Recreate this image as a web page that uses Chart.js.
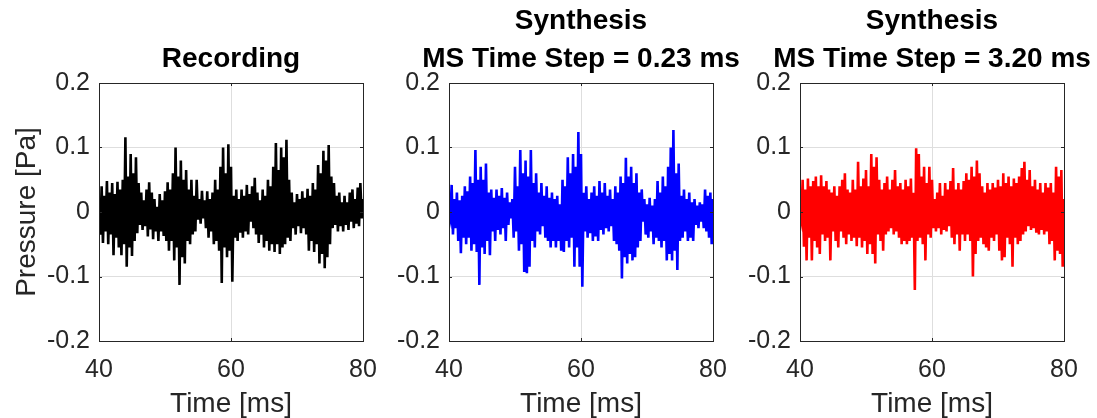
<!DOCTYPE html>
<html>
<head>
<meta charset="utf-8">
<script src="https://cdn.jsdelivr.net/npm/chart.js@4.4.1/dist/chart.umd.min.js"></script>
<style>
  html, body { margin: 0; padding: 0; background: #ffffff; }
  #wrap { position: relative; width: 1097px; height: 418px; overflow: hidden; background: #ffffff; }
  #wrap canvas { position: absolute; top: 0; }
</style>
</head>
<body>
<div id="wrap">
  <canvas id="panel0" width="403" height="418" style="left:0px"></canvas>
  <canvas id="panel1" width="403" height="418" style="left:350px"></canvas>
  <canvas id="panel2" width="403" height="418" style="left:701px"></canvas>
</div>
<script>
// Sample spacing of the pressure traces (ms); traces start at 40 ms.
const STEP_MS = 0.2;
const T_START = 40;

const xTicks = [40, 60, 80];
const xTickLabels = ['40', '60', '80'];
const yTicks = [-0.2, -0.1, 0, 0.1, 0.2];
const yTickLabels = ['-0.2', '-0.1', '0', '0.1', '0.2'];

const panelTitles = [
  ['Recording'],
  ['Synthesis', 'MS Time Step = 0.23 ms'],
  ['Synthesis', 'MS Time Step = 3.20 ms']
];
const seriesColors = ['#000000', '#0000ff', '#ff0000'];

// Positive excursions at 40.0, 40.4, ... 80.0 ms  [Pa]
const recordingPeaks = [
  0.01, 0.04, 0.025, 0.048, 0.03, 0.045, 0.028, 0.047, 0.035, 0.05,
  0.116, 0.055, 0.09, 0.06, 0.085, 0.045, 0.03, 0.018, 0.035, 0.046,
  0.03, 0.02, 0.008, 0.028, 0.018, 0.032, 0.046, 0.035, 0.06, 0.1,
  0.055, 0.08, 0.05, 0.065, 0.035, 0.05, 0.025, 0.05, 0.02, 0.033,
  0.018, 0.032, 0.02, 0.03, 0.05, 0.035, 0.07, 0.1, 0.06, 0.105,
  0.07, 0.025, 0.035, 0.02, 0.035, 0.025, 0.042, 0.028, 0.04, 0.053,
  0.03, 0.018, 0.035, 0.025, 0.05, 0.04, 0.07, 0.107, 0.065, 0.1,
  0.085, 0.112, 0.05, 0.03, 0.015, 0.028, 0.02, 0.032, 0.022, 0.036,
  0.025, 0.045, 0.035, 0.073, 0.06, 0.095, 0.08, 0.104, 0.055, 0.045,
  0.025, 0.03, 0.015, 0.025, 0.015, 0.03, 0.035, 0.02, 0.038, 0.045,
  0.02
];
// Negative excursions at 40.2, 40.6, ... 79.8 ms  [Pa]
const recordingTroughs = [
  -0.035, -0.048, -0.03, -0.05, -0.035, -0.067, -0.04, -0.055, -0.067, -0.05,
  -0.085, -0.055, -0.068, -0.045, -0.033, -0.02, -0.028, -0.022, -0.038, -0.027,
  -0.042, -0.03, -0.045, -0.03, -0.037, -0.045, -0.06, -0.045, -0.075, -0.055,
  -0.113, -0.07, -0.08, -0.045, -0.05, -0.035, -0.03, -0.012, -0.018, -0.01,
  -0.025, -0.04, -0.03, -0.05, -0.045, -0.06, -0.11, -0.055, -0.07, -0.06,
  -0.108, -0.04, -0.045, -0.032, -0.04, -0.03, -0.035, -0.015, -0.025, -0.035,
  -0.048, -0.035, -0.055, -0.045, -0.06, -0.05, -0.062, -0.05, -0.065, -0.055,
  -0.05, -0.04, -0.045, -0.025, -0.035, -0.022, -0.033, -0.025, -0.035, -0.06,
  -0.045, -0.062, -0.05, -0.08, -0.065, -0.087, -0.07, -0.05, -0.025, -0.02,
  -0.03, -0.022, -0.03, -0.02, -0.028, -0.015, -0.025, -0.018, -0.022, -0.01
];

const synthFinePeaks = [
  0.0, 0.042, 0.02, 0.03, 0.018, 0.025, 0.04, 0.032, 0.055, 0.045,
  0.096, 0.05, 0.07, 0.05, 0.075, 0.03, 0.035, 0.022, 0.035, 0.025,
  0.037, 0.022, 0.03, 0.015, 0.02, 0.07, 0.04, 0.096, 0.06, 0.08,
  0.055, 0.096, 0.045, 0.06, 0.03, 0.045, 0.025, 0.04, 0.022, 0.03,
  0.02, 0.025, 0.012, 0.05, 0.04, 0.085, 0.06, 0.09, 0.07, 0.124,
  0.09, 0.03, 0.04, 0.02, 0.03, 0.04, 0.025, 0.048, 0.03, 0.045,
  0.025, 0.035, 0.02, 0.04, 0.03, 0.055, 0.045, 0.084, 0.055, 0.07,
  0.045, 0.06, 0.03, 0.035, 0.02, 0.012, 0.022, 0.01, 0.02, 0.048,
  0.03, 0.055, 0.04, 0.07, 0.1, 0.127, 0.06, 0.075, 0.025, 0.035,
  0.02, 0.03, 0.015, 0.02, 0.01, 0.015, 0.012, 0.035, 0.025, 0.03,
  0.02
];
const synthFineTroughs = [
  -0.01, -0.035, -0.025, -0.045, -0.064, -0.04, -0.05, -0.04, -0.06, -0.05,
  -0.062, -0.113, -0.055, -0.065, -0.045, -0.067, -0.03, -0.045, -0.028, -0.035,
  -0.025, -0.045, -0.02, -0.01, -0.04, -0.03, -0.06, -0.05, -0.093, -0.095,
  -0.085, -0.045, -0.055, -0.03, -0.035, -0.022, -0.04, -0.045, -0.055, -0.045,
  -0.055, -0.045, -0.06, -0.062, -0.045, -0.055, -0.04, -0.085, -0.055, -0.085,
  -0.116, -0.03, -0.04, -0.033, -0.045, -0.038, -0.045, -0.028, -0.035, -0.025,
  -0.03, -0.022, -0.045, -0.05, -0.06, -0.103, -0.07, -0.08, -0.065, -0.075,
  -0.07, -0.055, -0.045, -0.015, -0.035, -0.04, -0.03, -0.05, -0.04, -0.045,
  -0.055, -0.045, -0.075, -0.065, -0.075, -0.06, -0.09, -0.045, -0.04, -0.03,
  -0.045, -0.04, -0.045, -0.02, -0.025, -0.015, -0.025, -0.03, -0.04, -0.05
];

const synthCoarsePeaks = [
  0.0, 0.05, 0.035, 0.052, 0.04, 0.048, 0.055, 0.04, 0.057, 0.04,
  0.048, 0.035, 0.03, 0.04, 0.025, 0.04, 0.05, 0.06, 0.035, 0.03,
  0.05, 0.035, 0.078, 0.04, 0.052, 0.065, 0.04, 0.09, 0.07, 0.085,
  0.05, 0.035, 0.045, 0.055, 0.035, 0.05, 0.065, 0.04, 0.045, 0.035,
  0.05, 0.04, 0.052, 0.03, 0.099, 0.09, 0.055, 0.07, 0.045, 0.07,
  0.05, 0.02, 0.03, 0.045, 0.025, 0.045, 0.035, 0.048, 0.068, 0.035,
  0.045, 0.035, 0.048, 0.06, 0.05, 0.07, 0.055, 0.08, 0.06, 0.04,
  0.03, 0.045, 0.035, 0.045, 0.038, 0.05, 0.04, 0.06, 0.045, 0.055,
  0.04, 0.052, 0.045, 0.055, 0.068, 0.078, 0.05, 0.065, 0.04, 0.05,
  0.035, 0.045, 0.03, 0.045, 0.038, 0.045, 0.03, 0.07, 0.055, 0.065,
  0.02
];
const synthCoarseTroughs = [
  -0.012, -0.054, -0.075, -0.04, -0.075, -0.045, -0.055, -0.065, -0.035, -0.045,
  -0.04, -0.075, -0.03, -0.045, -0.055, -0.03, -0.04, -0.05, -0.035, -0.045,
  -0.04, -0.053, -0.04, -0.055, -0.045, -0.065, -0.05, -0.065, -0.08, -0.035,
  -0.045, -0.06, -0.035, -0.03, -0.025, -0.035, -0.03, -0.04, -0.05, -0.045,
  -0.05, -0.045, -0.04, -0.121, -0.045, -0.04, -0.05, -0.075, -0.035, -0.04,
  -0.025, -0.03, -0.025, -0.035, -0.028, -0.03, -0.022, -0.04, -0.05, -0.035,
  -0.06, -0.035, -0.045, -0.035, -0.045, -0.1, -0.065, -0.045, -0.04, -0.05,
  -0.055, -0.06, -0.04, -0.045, -0.035, -0.06, -0.075, -0.07, -0.04, -0.05,
  -0.085, -0.04, -0.05, -0.045, -0.035, -0.03, -0.022, -0.028, -0.025, -0.032,
  -0.035, -0.028, -0.035, -0.03, -0.05, -0.045, -0.075, -0.06, -0.065, -0.085
];

// Interleave positive and negative excursions into one time-ordered trace.
function buildTrace(peaks, troughs) {
  const pts = [];
  for (let k = 0; k < peaks.length; k++) {
    pts.push({ x: T_START + 2 * k * STEP_MS, y: peaks[k] });
    if (k < troughs.length) pts.push({ x: T_START + (2 * k + 1) * STEP_MS, y: troughs[k] });
  }
  return pts;
}

const traces = [
  buildTrace(recordingPeaks, recordingTroughs),
  buildTrace(synthFinePeaks, synthFineTroughs),
  buildTrace(synthCoarsePeaks, synthCoarseTroughs)
];

const FONT = '"Liberation Sans", Arial, Helvetica, sans-serif';
const AXIS_COLOR = '#262626';
const GRID_COLOR = '#dedede';

// Box around the axes plus short inward tick marks on all four sides.
const axesBox = {
  id: 'axesBox',
  afterDatasetsDraw(chart) {
    const { ctx, chartArea: a, scales: { x, y } } = chart;
    const len = 3;
    ctx.save();
    ctx.strokeStyle = AXIS_COLOR;
    ctx.lineWidth = 1;
    ctx.beginPath();
    xTicks.forEach(v => {
      const px = Math.round(x.getPixelForValue(v)) + 0.5;
      ctx.moveTo(px, a.bottom); ctx.lineTo(px, a.bottom - len);
      ctx.moveTo(px, a.top); ctx.lineTo(px, a.top + len);
    });
    yTicks.forEach(v => {
      const py = Math.round(y.getPixelForValue(v)) + 0.5;
      ctx.moveTo(a.left, py); ctx.lineTo(a.left + len, py);
      ctx.moveTo(a.right, py); ctx.lineTo(a.right - len, py);
    });
    ctx.stroke();
    ctx.strokeRect(a.left + 0.5, a.top + 0.5, a.right - a.left, a.bottom - a.top);
    ctx.restore();
  }
};

// Bold title lines centred over the plotting area, last line just above the box.
const panelTitle = {
  id: 'panelTitle',
  afterDraw(chart, args, opts) {
    const { ctx, chartArea: a } = chart;
    const lines = opts.lines || [];
    ctx.save();
    ctx.font = 'bold 28px ' + FONT;
    ctx.fillStyle = '#000000';
    ctx.textAlign = 'center';
    ctx.textBaseline = 'middle';
    const cx = (a.left + a.right) / 2;
    lines.forEach((t, i) => {
      ctx.fillText(t, cx, a.top - 24 - (lines.length - 1 - i) * 38);
    });
    ctx.restore();
  }
};

function makePanel(index) {
  return new Chart(document.getElementById('panel' + index), {
    type: 'line',
    data: {
      datasets: [{
        data: traces[index],
        borderColor: seriesColors[index],
        borderWidth: 2.6,
        pointRadius: 0,
        tension: 0,
        fill: false
      }]
    },
    options: {
      responsive: false,
      animation: false,
      events: [],
      layout: { padding: { left: 0, right: 40, top: 83, bottom: 0 } },
      plugins: {
        legend: { display: false },
        tooltip: { enabled: false },
        title: { display: false },
        panelTitle: { lines: panelTitles[index] }
      },
      scales: {
        x: {
          type: 'linear',
          min: 40,
          max: 80,
          afterBuildTicks: s => { s.ticks = xTicks.map(v => ({ value: v })); },
          afterFit: s => { s.height = 77; },
          grid: { color: GRID_COLOR, lineWidth: 1, drawTicks: false },
          border: { display: false },
          ticks: {
            autoSkip: false,
            maxRotation: 0,
            padding: 14,
            color: AXIS_COLOR,
            font: { family: FONT, size: 25 },
            callback: (v, i) => xTickLabels[i]
          },
          title: {
            display: true,
            text: 'Time [ms]',
            color: AXIS_COLOR,
            font: { family: FONT, size: 28, lineHeight: 1 },
            padding: 0
          }
        },
        y: {
          type: 'linear',
          min: -0.2,
          max: 0.2,
          afterBuildTicks: s => { s.ticks = yTicks.map(v => ({ value: v })); },
          afterFit: s => { s.width = 99; },
          grid: { color: GRID_COLOR, lineWidth: 1, drawTicks: false },
          border: { display: false },
          ticks: {
            autoSkip: false,
            padding: 9,
            color: AXIS_COLOR,
            font: { family: FONT, size: 25 },
            callback: (v, i) => yTickLabels[i]
          },
          title: {
            display: index === 0,
            text: 'Pressure [Pa]',
            color: AXIS_COLOR,
            font: { family: FONT, size: 28, lineHeight: 1 },
            padding: { top: 13, bottom: 0 }
          }
        }
      }
    },
    plugins: [axesBox, panelTitle]
  });
}

[0, 1, 2].forEach(makePanel);
</script>
</body>
</html>
